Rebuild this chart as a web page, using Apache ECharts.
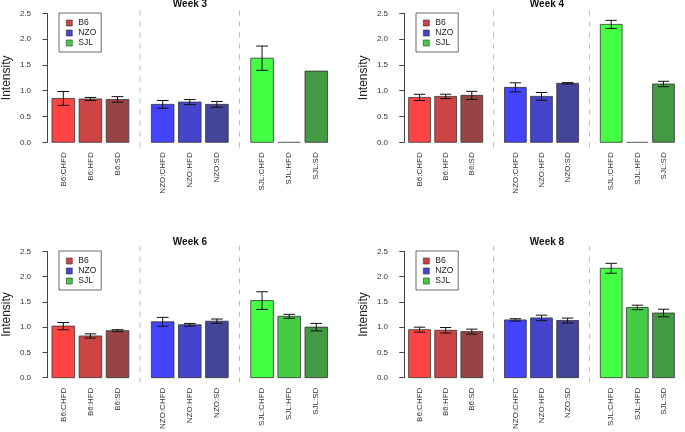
<!DOCTYPE html>
<html>
<head>
<meta charset="utf-8">
<script src="https://cdn.jsdelivr.net/npm/echarts@6/dist/echarts.min.js"></script>
<style>html,body{margin:0;padding:0;background:#fff;}#c{width:685px;height:432px;}</style>
</head>
<body>
<div id="c"></div>
<script>
// ---- data ----
const categories = ['B6:CHFD','B6:HFD','B6:SD','NZO:CHFD','NZO:HFD','NZO:SD','SJL:CHFD','SJL:HFD','SJL:SD'];
const strains = ['B6','NZO','SJL'];
const weeks = ['Week 3','Week 4','Week 6','Week 8'];
const yTicks = [0, 0.5, 1.0, 1.5, 2.0, 2.5];

const week3Mean = [0.85, 0.84, 0.83, 0.735, 0.78, 0.735, 1.63, 0, 1.38];
const week3Err  = [0.135, 0.03, 0.055, 0.075, 0.05, 0.055, 0.235, null, null];
const week4Mean = [0.87, 0.89, 0.91, 1.065, 0.89, 1.143, 2.285, 0, 1.13];
const week4Err  = [0.06, 0.042, 0.078, 0.088, 0.075, 0.013, 0.078, null, 0.052];
const week6Mean = [1.02, 0.825, 0.93, 1.105, 1.047, 1.118, 1.525, 1.214, 1.0];
const week6Err  = [0.071, 0.042, 0.02, 0.088, 0.026, 0.042, 0.175, 0.039, 0.074];
const week8Mean = [0.95, 0.937, 0.911, 1.143, 1.182, 1.13, 2.164, 1.389, 1.279];
const week8Err  = [0.049, 0.055, 0.049, 0.023, 0.055, 0.049, 0.098, 0.045, 0.075];

// ---- styles ----
const barColors = ['#ff4444','#cc4444','#994444','#4444ff','#4444cc','#444499','#44ff44','#44cc44','#449944'];
const legendColors = ['#cc4444','#4444cc','#44cc44'];

const means = [week3Mean, week4Mean, week6Mean, week8Mean];
const errs = [week3Err, week4Err, week6Err, week8Err];

// layout (barplot-like positions: width 1, space 0.2 within, 1 between groups)
function center(i){ const g = Math.floor(i/3), j = i%3; return 0.2 + g*4.4 + j*1.2 + 0.5; }
const centers = categories.map((c,i)=>center(i));
const dividers = [1,2].map(g => 0.2 + g*4.4 - 0.5);
const panelDx = [0, 357, 0, 357];
const panelDy = [0, 0, 238, 238];

const FONT = 'Liberation Sans, Arial, sans-serif';
const grids = [], xAxes = [], yAxes = [], series = [], legends = [], titles = [];

weeks.forEach((w, p) => {
  const dx = panelDx[p], dy = panelDy[p];
  grids.push({left: 41+dx, top: 13.3+dy, width: 297.6, height: 129});
  xAxes.push({
    gridIndex: p, type: 'value', min: -0.288, max: 12.888,
    axisLine: {show: false}, axisTick: {show: false}, splitLine: {show: false},
    axisLabel: {
      customValues: centers, rotate: 90, margin: 10, fontSize: 8, color: '#333', fontFamily: FONT,
      formatter: v => { let best = 0; centers.forEach((c,i)=>{ if (Math.abs(c-v) < Math.abs(centers[best]-v)) best = i; }); return categories[best]; }
    }
  });
  yAxes.push({
    gridIndex: p, type: 'value', min: 0, max: 2.5, interval: 0.5,
    name: 'Intensity', nameLocation: 'middle', nameGap: 28,
    nameTextStyle: {fontSize: 12, color: '#222', fontFamily: FONT},
    axisLine: {show: true, lineStyle: {color: '#444', width: 1}},
    axisTick: {show: true, length: 5, lineStyle: {color: '#444'}},
    splitLine: {show: false},
    axisLabel: {margin: 10, fontSize: 8, color: '#333', fontFamily: FONT, formatter: v => v.toFixed(1)}
  });
  titles.push({text: w, left: 190+dx, textAlign: 'center', top: -0.5+dy, padding: 0,
    textStyle: {fontSize: 10, fontWeight: 'bold', color: '#111', fontFamily: FONT}});
  legends.push({
    data: strains, orient: 'vertical', left: 59+dx, top: 13+dy,
    itemWidth: 6, itemHeight: 6, itemGap: 0, icon: 'rect', selectedMode: false,
    padding: [5, 5, 4, 7], borderColor: '#444', borderWidth: 0.8,
    itemStyle: {borderColor: '#333', borderWidth: 0.6},
    textStyle: {fontSize: 8.5, lineHeight: 10, color: '#222', fontFamily: FONT, padding: [0,0,0,1]}
  });
  // dividers
  series.push({
    type: 'custom', xAxisIndex: p, yAxisIndex: p, silent: true,
    data: dividers.map(d => [d, 0]),
    renderItem: (params, api) => {
      const x = api.value(0);
      const a = api.coord([x, -0.1]), b = api.coord([x, 2.6]);
      return {type: 'line', shape: {x1: a[0], y1: a[1], x2: b[0], y2: b[1]},
        style: {stroke: '#bbbbbb', lineWidth: 1, lineDash: [5, 6]}};
    }
  });
  strains.forEach((s, k) => {
    const idx = [3*k, 3*k+1, 3*k+2];
    series.push({
      type: 'custom', name: s, xAxisIndex: p, yAxisIndex: p,
      itemStyle: {color: legendColors[k]},
      data: idx.map(i => [centers[i], means[p][i], i]),
      renderItem: (params, api) => {
        const x = api.value(0), y = api.value(1), i = api.value(2);
        const e = errs[p][i];
        const p0 = api.coord([x-0.5, y]), p1 = api.coord([x+0.5, 0]);
        const children = [];
        if (y > 0) {
          children.push({type: 'rect', shape: {x: p0[0], y: p0[1], width: p1[0]-p0[0], height: p1[1]-p0[1]},
            style: {fill: barColors[i], stroke: '#333', lineWidth: 0.8}});
        } else {
          children.push({type: 'line', shape: {x1: p0[0], y1: p1[1], x2: p1[0], y2: p1[1]},
            style: {stroke: '#555', lineWidth: 1}});
        }
        if (e != null) {
          const t = api.coord([x, y+e]), b = api.coord([x, y-e]);
          const hw = api.size([0.26, 0])[0];
          const st = {stroke: '#111', lineWidth: 1};
          children.push({type: 'line', shape: {x1: t[0], y1: t[1], x2: b[0], y2: b[1]}, style: st});
          children.push({type: 'line', shape: {x1: t[0]-hw, y1: t[1], x2: t[0]+hw, y2: t[1]}, style: st});
          children.push({type: 'line', shape: {x1: b[0]-hw, y1: b[1], x2: b[0]+hw, y2: b[1]}, style: st});
        }
        return {type: 'group', children};
      }
    });
  });
});

const chart = echarts.init(document.getElementById('c'), null, {renderer: 'canvas'});
chart.setOption({
  animation: false, backgroundColor: '#fff',
  textStyle: {fontFamily: FONT},
  title: titles, legend: legends, grid: grids, xAxis: xAxes, yAxis: yAxes, series
});
</script>
</body>
</html>
